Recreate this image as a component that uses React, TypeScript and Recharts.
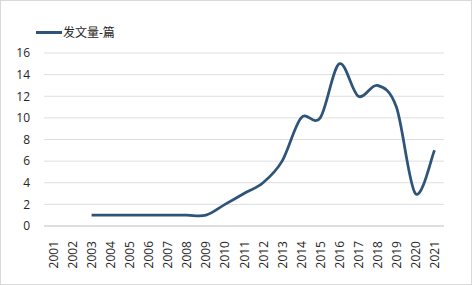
import { LineChart, Line, XAxis, YAxis, CartesianGrid } from "recharts"

const years = [
  "2001", "2002", "2003", "2004", "2005", "2006", "2007", "2008", "2009", "2010", "2011",
  "2012", "2013", "2014", "2015", "2016", "2017", "2018", "2019", "2020", "2021",
]
const papers: (number | null)[] = [null, null, 1, 1, 1, 1, 1, 1, 1, 2, 3, 4, 6, 10, 10, 15, 12, 13, 11, 3, 7]
const yTicks = [0, 2, 4, 6, 8, 10, 12, 14, 16]
const seriesName = "发文量-篇"

const data = years.map((year, i) => ({ year, value: papers[i] }))

const lineColor = "#2f5479"
const textColor = "#262626"
const fontFamily = "'Open Sans', 'Noto Sans CJK SC', sans-serif"

// Excel-style smoothing (uniform Catmull-Rom)
const smoothCurve = (ctx: any) => {
  let pts: [number, number][] = []
  let line = NaN
  return {
    areaStart() { line = 0 },
    areaEnd() { line = NaN },
    lineStart() { pts = [] },
    point(x: number, y: number) { pts.push([+x, +y]) },
    lineEnd() {
      const n = pts.length
      if (n > 0) {
        if (line) ctx.lineTo(pts[0][0], pts[0][1])
        else ctx.moveTo(pts[0][0], pts[0][1])
        if (n === 2) ctx.lineTo(pts[1][0], pts[1][1])
        for (let i = 0; n > 2 && i < n - 1; i++) {
          const p0 = pts[Math.max(i - 1, 0)]
          const p1 = pts[i]
          const p2 = pts[i + 1]
          const p3 = pts[Math.min(i + 2, n - 1)]
          ctx.bezierCurveTo(
            p1[0] + (p2[0] - p0[0]) / 6, p1[1] + (p2[1] - p0[1]) / 6,
            p2[0] - (p3[0] - p1[0]) / 6, p2[1] - (p3[1] - p1[1]) / 6,
            p2[0], p2[1]
          )
        }
      }
      if (line || (line !== 0 && n === 1)) ctx.closePath()
      line = 1 - line
    },
  }
}

const YearTick = ({ x, y, payload }: any) => (
  <text
    x={x}
    y={y + 7}
    transform={`rotate(-90, ${x}, ${y + 7})`}
    textAnchor="end"
    dominantBaseline="central"
    fontSize={12}
    fill={textColor}
    fontFamily={fontFamily}
  >
    {payload.value}
  </text>
)

export default function App() {
  return (
    <div style={{ position: "fixed", left: 0, top: 0, width: 472, height: 285, background: "#fff" }}>
      <LineChart width={472} height={285} data={data} margin={{ top: 53, right: 28, left: 0, bottom: 0 }}>
        <CartesianGrid vertical={false} stroke="#dedede" />
        <XAxis
          dataKey="year"
          interval={0}
          height={59}
          padding={{ left: 9.5, right: 9.5 }}
          tick={<YearTick />}
          tickLine={false}
          axisLine={{ stroke: "#d9d9d9", strokeWidth: 1.5 }}
        />
        <YAxis
          domain={[0, 16]}
          ticks={yTicks}
          interval={0}
          width={44}
          tickSize={0}
          tickMargin={14}
          axisLine={false}
          tickLine={false}
          tick={{ fontSize: 12, fill: textColor, fontFamily }}
        />
        <Line
          dataKey="value"
          name={seriesName}
          type={smoothCurve as any}
          stroke={lineColor}
          strokeWidth={2.75}
          dot={false}
          activeDot={false}
          isAnimationActive={false}
        />
      </LineChart>
      <div
        style={{
          position: "absolute", left: 36, top: 23, display: "flex", alignItems: "center",
          fontFamily, fontSize: 12, color: textColor,
        }}
      >
        <span style={{ display: "inline-block", width: 26, height: 3, background: lineColor, marginRight: 1 }} />
        <span>{seriesName}</span>
      </div>
      <div
        style={{
          position: "absolute", left: 0, top: 0, right: 0, bottom: 0,
          border: "1px solid #d9d9d9", pointerEvents: "none",
        }}
      />
    </div>
  )
}
